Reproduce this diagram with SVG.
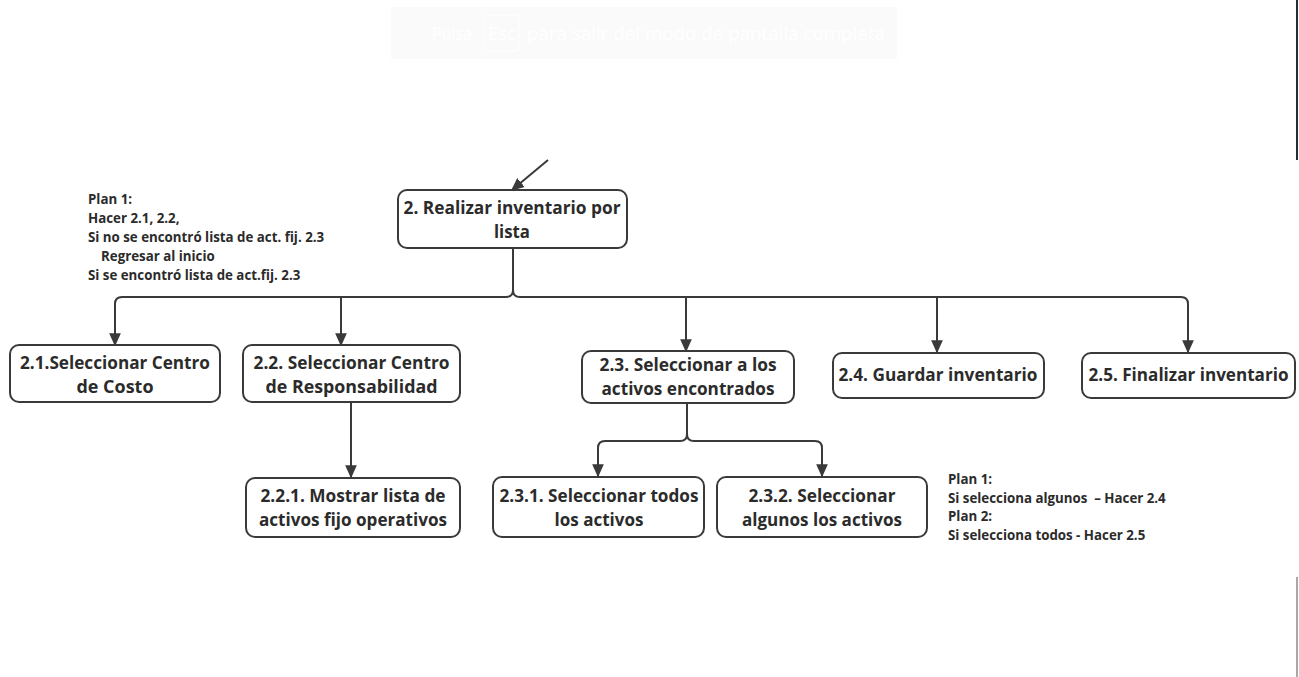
<svg xmlns="http://www.w3.org/2000/svg" width="1299" height="677" viewBox="0 0 1299 677">
<style>
.box{fill:#fff;stroke:#3a3a3a;stroke-width:2}
.t{font-family:"Open Sans","Noto Sans",sans-serif;font-weight:700;font-size:17px;fill:#2b2b2b;text-anchor:middle}
.n{font-family:"Open Sans","Noto Sans",sans-serif;font-weight:700;font-size:13.3px;fill:#2b2b2b}
.c{fill:none;stroke:#3a3a3a;stroke-width:2}
.ov{font-family:"Open Sans","Noto Sans",sans-serif;font-size:18px;fill:#ffffff}
</style>
<defs>
<marker id="ah" viewBox="0 0 10 10" refX="9" refY="5" markerWidth="13" markerHeight="13" markerUnits="userSpaceOnUse" orient="auto">
<path d="M0,0.5 L10,5 L0,9.5 z" fill="#3a3a3a"/>
</marker>
</defs>
<rect width="1299" height="677" fill="#fff"/>
<g id="overlay">
<rect x="391" y="7" width="506" height="52" fill="#fafafa"/>
<rect x="484" y="15" width="35" height="36" rx="2" fill="none" stroke="#fff" stroke-width="1"/>
<text class="ov" x="432" y="40" textLength="40" lengthAdjust="spacingAndGlyphs">Pulsa</text>
<text class="ov" x="488" y="40" textLength="28" lengthAdjust="spacingAndGlyphs">Esc</text>
<text class="ov" x="527" y="40" textLength="358" lengthAdjust="spacingAndGlyphs">para salir del modo de pantalla completa</text>
</g>
<g id="edge-artifacts">
<line x1="1297" y1="0" x2="1297" y2="160" stroke="#1f2d35" stroke-width="2"/>
<line x1="1297" y1="577" x2="1297" y2="677" stroke="#a8a8a8" stroke-width="2"/>
</g>
<g id="connectors">
<line class="c" x1="548" y1="160" x2="512" y2="190" marker-end="url(#ah)"/>
<path class="c" d="M513,248 V290 Q513,297 506,297 H122 Q115,297 115,304 V345" marker-end="url(#ah)"/>
<path class="c" d="M341,297 V345" marker-end="url(#ah)"/>
<path class="c" d="M513,290 Q513,297 520,297 H1181 Q1188,297 1188,304 V352" marker-end="url(#ah)"/>
<path class="c" d="M686,297 V351" marker-end="url(#ah)"/>
<path class="c" d="M937,297 V352" marker-end="url(#ah)"/>
<path class="c" d="M351,402 V477" marker-end="url(#ah)"/>
<path class="c" d="M687,403 V434 Q687,441 680,441 H605 Q598,441 598,448 V476" marker-end="url(#ah)"/>
<path class="c" d="M687,434 Q687,441 694,441 H815 Q822,441 822,448 V476" marker-end="url(#ah)"/>
</g>
<g id="n2">
<rect class="box" x="398" y="190" width="229" height="58" rx="9"/>
<text class="t" x="512" y="214" textLength="217" lengthAdjust="spacingAndGlyphs">2. Realizar inventario por</text>
<text class="t" x="512" y="238" textLength="36" lengthAdjust="spacingAndGlyphs">lista</text>
</g>
<g id="note1">
<text class="n" x="88" y="204">Plan 1:</text>
<text class="n" x="88" y="223">Hacer 2.1, 2.2,</text>
<text class="n" x="88" y="242">Si no se encontró lista de act. fij. 2.3</text>
<text class="n" x="101" y="261">Regresar al inicio</text>
<text class="n" x="88" y="280">Si se encontró lista de act.fij. 2.3</text>
</g>
<g id="n21">
<rect class="box" x="10" y="345" width="210" height="57" rx="9"/>
<text class="t" x="115" y="369" textLength="190" lengthAdjust="spacingAndGlyphs">2.1.Seleccionar Centro</text>
<text class="t" x="115" y="393" textLength="77" lengthAdjust="spacingAndGlyphs">de Costo</text>
</g>
<g id="n22">
<rect class="box" x="243" y="345" width="217" height="57" rx="9"/>
<text class="t" x="351.5" y="369" textLength="196" lengthAdjust="spacingAndGlyphs">2.2. Seleccionar Centro</text>
<text class="t" x="351.5" y="393" textLength="172" lengthAdjust="spacingAndGlyphs">de Responsabilidad</text>
</g>
<g id="n221">
<rect class="box" x="246" y="478" width="214" height="59" rx="9"/>
<text class="t" x="353" y="502" textLength="185" lengthAdjust="spacingAndGlyphs">2.2.1. Mostrar lista de</text>
<text class="t" x="353" y="526" textLength="188" lengthAdjust="spacingAndGlyphs">activos fijo operativos</text>
</g>
<g id="n23">
<rect class="box" x="582" y="351" width="212" height="52" rx="9"/>
<text class="t" x="688" y="371" textLength="177" lengthAdjust="spacingAndGlyphs">2.3. Seleccionar a los</text>
<text class="t" x="688" y="395" textLength="173" lengthAdjust="spacingAndGlyphs">activos encontrados</text>
</g>
<g id="n231">
<rect class="box" x="493" y="477" width="211" height="60" rx="9"/>
<text class="t" x="599" y="502" textLength="199" lengthAdjust="spacingAndGlyphs">2.3.1. Seleccionar todos</text>
<text class="t" x="599" y="526" textLength="89" lengthAdjust="spacingAndGlyphs">los activos</text>
</g>
<g id="n232">
<rect class="box" x="717" y="477" width="210" height="60" rx="9"/>
<text class="t" x="822" y="502" textLength="147" lengthAdjust="spacingAndGlyphs">2.3.2. Seleccionar</text>
<text class="t" x="822" y="526" textLength="160" lengthAdjust="spacingAndGlyphs">algunos los activos</text>
</g>
<g id="n24">
<rect class="box" x="833" y="353" width="211" height="45" rx="9"/>
<text class="t" x="938" y="381" textLength="199" lengthAdjust="spacingAndGlyphs">2.4. Guardar inventario</text>
</g>
<g id="n25">
<rect class="box" x="1082" y="353" width="213" height="45" rx="9"/>
<text class="t" x="1188.5" y="381" textLength="200" lengthAdjust="spacingAndGlyphs">2.5. Finalizar inventario</text>
</g>
<g id="note2">
<text class="n" x="948" y="484">Plan 1:</text>
<text class="n" x="948" y="503">Si selecciona algunos&#160; – Hacer 2.4</text>
<text class="n" x="948" y="521">Plan 2:</text>
<text class="n" x="948" y="540">Si selecciona todos - Hacer 2.5</text>
</g>
</svg>
